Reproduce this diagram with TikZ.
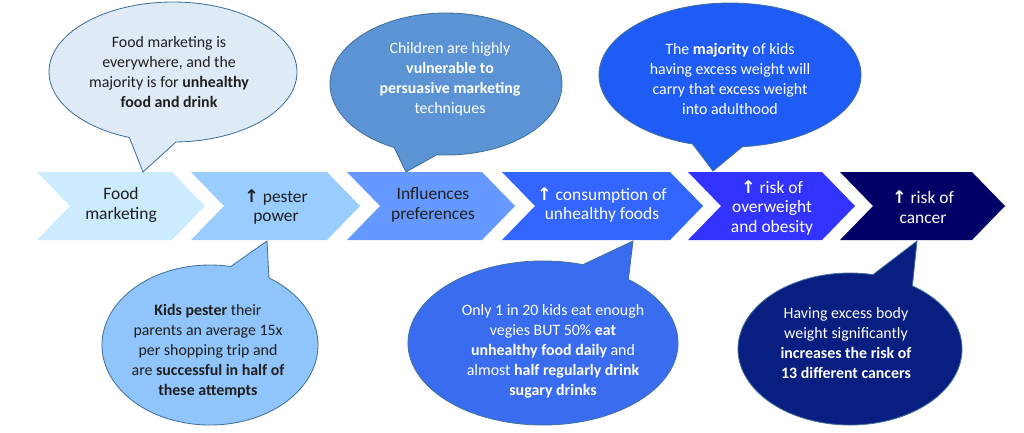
\documentclass[tikz,border=0pt]{standalone}
\usepackage{fontspec}
\setmainfont{Carlito}
\newfontfamily\arrowfont{DejaVu Sans}
\usetikzlibrary{shapes.callouts}
\definecolor{chevA}{HTML}{CCEBFF}
\definecolor{chevB}{HTML}{99CCFF}
\definecolor{chevC}{HTML}{6699FF}
\definecolor{chevD}{HTML}{3366FF}
\definecolor{chevE}{HTML}{3333FF}
\definecolor{chevF}{HTML}{020066}
\definecolor{bubA}{HTML}{DEEBF7}
\definecolor{bubB}{HTML}{5B93D5}
\definecolor{bubC}{HTML}{1F5BF5}
\definecolor{bubD}{HTML}{8FC5FA}
\definecolor{bubE}{HTML}{3A6CF0}
\definecolor{bubF}{HTML}{081E80}
\definecolor{bubline}{HTML}{41719C}
\definecolor{darktext}{HTML}{1F1F1F}
\newcommand{\upmark}{{\arrowfont\bfseries ↑}}

\begin{document}
\begin{tikzpicture}[x=0.25mm,y=-0.25mm,
    steptext/.style={align=center,font=\fontsize{12.4}{14.2}\selectfont},
    bubble/.style={ellipse callout,draw=bubline,line width=0.6pt,inner sep=0pt,
      callout pointer arc=22},
    bubtext/.style={align=center,font=\fontsize{11.3}{14.2}\selectfont}]
  \useasboundingbox (0,0) rectangle (1024,432);
  % chevrons
  \foreach \x/\w/\c in {37/168/chevA,191/169/chevB,347/168/chevC,
      502/201/chevD,688/167/chevE,840/165/chevF}
    \fill[\c] (\x,172) -- ++(\w-33,0) -- ++(33,34) -- ++(-33,34)
      -- ++(33-\w,0) -- ++(33,-34) -- cycle;
  \node[steptext,text=darktext] (c1) at (121,205) {Food\\marketing};
  \node[steptext,text=darktext] (c2) at (276,207) {\upmark\ pester\\power};
  \node[steptext,text=darktext] (c3) at (433,205) {Influences\\preferences};
  \node[steptext,text=white] (c4) at (602,205) {\upmark\ consumption of\\unhealthy foods};
  \node[steptext,text=white] (c5) at (772,208) {\upmark\ risk of\\overweight\\and obesity};
  \node[steptext,text=white] (c6) at (923,207) {\upmark\ risk of\\cancer};
  % speech bubbles
  \node[bubble,fill=bubA,minimum width=6.2cm,minimum height=3.5cm,
    callout absolute pointer={(143,172)}] (b1) at (173,72) {};
  \node[bubtext,text=darktext] (t1) at (169,72)
    {Food marketing is\\everywhere, and the\\majority is for \textbf{unhealthy}\\\textbf{food and drink}};
  \node[bubble,fill=bubB,minimum width=5.8cm,minimum height=3.55cm,
    callout absolute pointer={(406,172)}] (b2) at (446,84) {};
  \node[bubtext,text=white] (t2) at (450,79)
    {Children are highly\\\textbf{vulnerable to}\\\textbf{persuasive marketing}\\techniques};
  \node[bubble,fill=bubC,minimum width=6.55cm,minimum height=3.6cm,
    callout absolute pointer={(713,171)}] (b3) at (730,75) {};
  \node[bubtext,text=white] (t3) at (730,79)
    {The \textbf{majority} of kids\\having excess weight will\\carry that excess weight\\into adulthood};
  \node[bubble,fill=bubD,minimum width=5.4cm,minimum height=4cm,
    callout absolute pointer={(267,241)}] (b4) at (210,345) {};
  \node[bubtext,text=darktext] (t4) at (208,351)
    {\textbf{Kids pester} their\\parents an average 15x\\per shopping trip and\\are \textbf{successful in half of}\\\textbf{these attempts}};
  \node[bubble,fill=bubE,minimum width=6.75cm,minimum height=4.1cm,
    callout absolute pointer={(633,241)}] (b5) at (543,343) {};
  \node[bubtext,text=white] (t5) at (553,351)
    {Only 1 in 20 kids eat enough\\vegies BUT 50\% \textbf{eat}\\\textbf{unhealthy food daily} and\\almost \textbf{half regularly drink}\\\textbf{sugary drinks}};
  \node[bubble,fill=bubF,minimum width=5.6cm,minimum height=3.8cm,
    callout absolute pointer={(917,241)}] (b6) at (850,349) {};
  \node[bubtext,text=white] (t6) at (846,343)
    {Having excess body\\weight significantly\\\textbf{increases the risk of}\\\textbf{13 different cancers}};
\end{tikzpicture}
\end{document}
